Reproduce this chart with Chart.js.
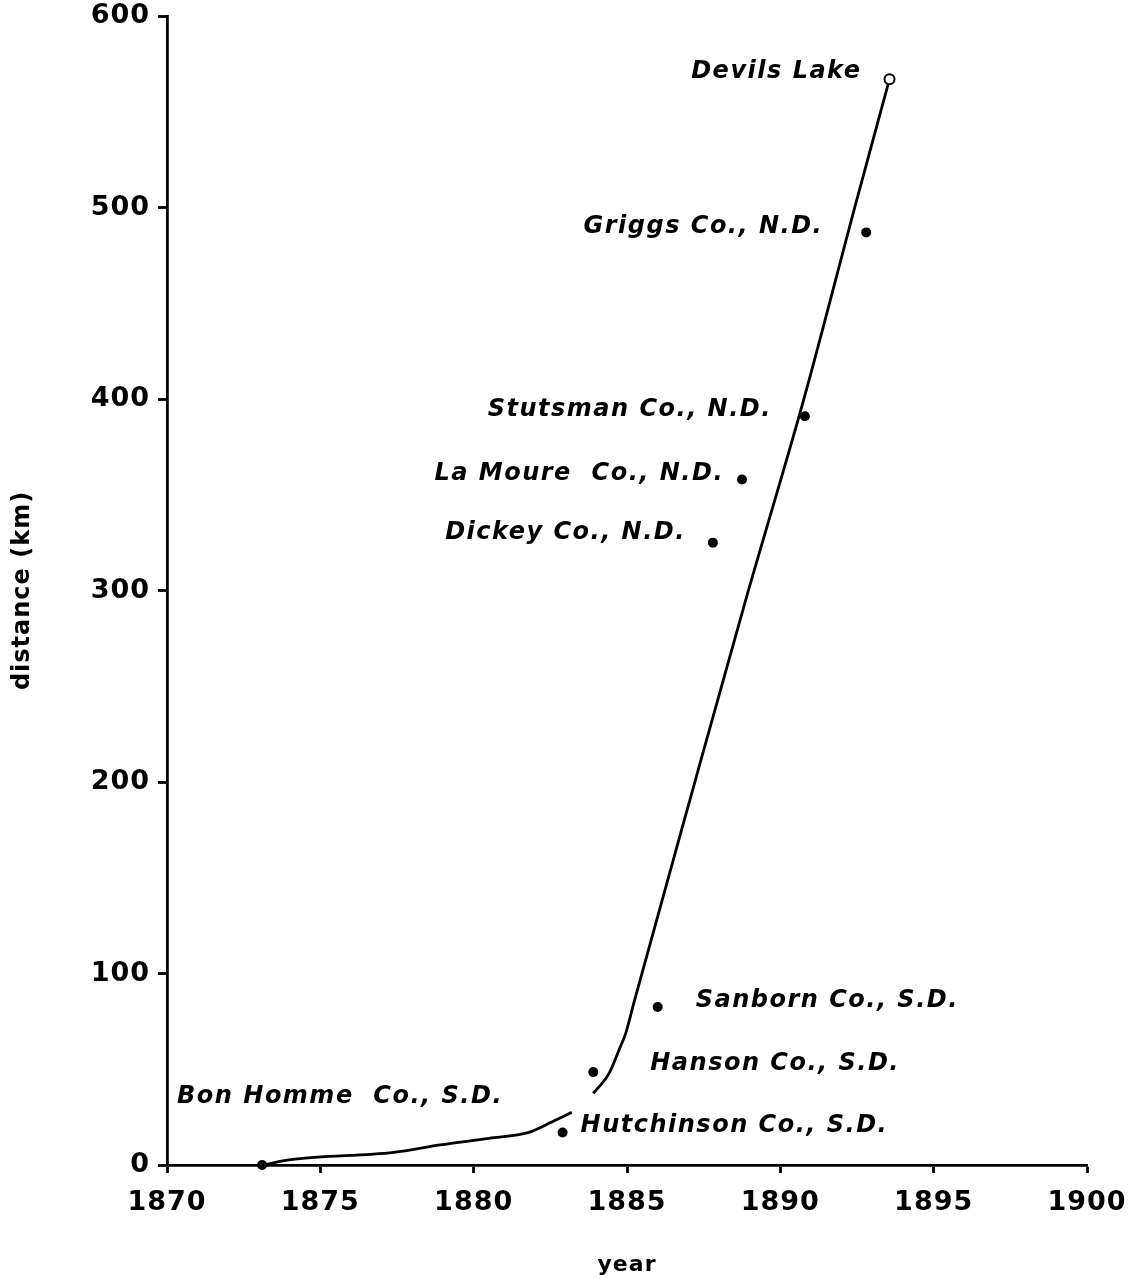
<!DOCTYPE html>
<html>
<head>
<meta charset="utf-8">
<script src="https://cdn.jsdelivr.net/npm/chart.js@4"></script>
<style>
  html, body { margin: 0; padding: 0; background: #fff; }
  #wrap { width: 1133px; height: 1279px; }
</style>
</head>
<body>
<div id="wrap"><canvas id="c" width="1133" height="1279"></canvas></div>
<script>
// Settlement sites: year reached and distance travelled (km)
const siteNames = [
  'Bon Homme  Co., S.D.',
  'Hutchinson Co., S.D.',
  'Hanson Co., S.D.',
  'Sanborn Co., S.D.',
  'Dickey Co., N.D.',
  'La Moure  Co., N.D.',
  'Stutsman Co., N.D.',
  'Griggs Co., N.D.'
];
const siteYears     = [1873.1, 1882.9, 1883.9, 1886.0, 1887.8, 1888.75, 1890.8, 1892.8];
const siteDistances = [0, 17, 48.5, 82.5, 325, 358, 391, 487];

// Final site, drawn as an open circle
const endName = 'Devils Lake';
const endYear = 1893.56;
const endDistance = 567;

// Fitted spread curve, early (slow) phase
const earlyYears     = [1873.1, 1874.1, 1877.4, 1878.9, 1880.5, 1881.8, 1882.35, 1882.8, 1883.2];
const earlyDistances = [0, 2.9, 6.6, 10.5, 13.9, 17.0, 20.9, 24.4, 27.5];

// Fitted spread curve, late (rapid) phase
const lateYears     = [1883.9, 1884.42, 1884.74, 1884.96, 1885.23, 1887.05, 1888.87, 1890.76, 1892.49, 1893.56];
const lateDistances = [37.4, 48.0, 60.1, 68.9, 85.0, 190.6, 295.0, 399.5, 503.9, 567];

// Axis ticks
const yearTicks = [1870, 1875, 1880, 1885, 1890, 1895, 1900];
const distanceTicks = [0, 100, 200, 300, 400, 500, 600];

// Label placement relative to each marker: [dx, dy, align]
const siteLabelOffsets = [
  [-85, -68.5, 'left'],
  [18, -7, 'left'],
  [57, -8, 'left'],
  [38, -6, 'left'],
  [-27, -10, 'right'],
  [-18, -6, 'right'],
  [-33, -6.5, 'right'],
  [-43, -5.5, 'right']
];
const endLabelOffset = [-28, -7.5, 'right'];

const toPoints = (xs, ys) => xs.map((x, i) => ({ x, y: ys[i] }));

const whiteBackground = {
  id: 'whiteBackground',
  beforeDraw(chart) {
    const c = chart.ctx;
    c.save();
    c.fillStyle = '#fff';
    c.fillRect(0, 0, chart.width, chart.height);
    c.restore();
    c.letterSpacing = '1px';
  }
};

const siteLabels = {
  id: 'siteLabels',
  afterDatasetsDraw(chart) {
    const c = chart.ctx;
    const xs = chart.scales.x, ys = chart.scales.y;
    c.save();
    c.letterSpacing = '1.5px';
    c.fillStyle = '#000';
    c.font = 'italic bold 24px "DejaVu Sans"';
    c.textBaseline = 'middle';
    const put = (name, yr, d, off) => {
      c.textAlign = off[2];
      c.fillText(name, xs.getPixelForValue(yr) + off[0], ys.getPixelForValue(d) + off[1]);
    };
    siteNames.forEach((n, i) => put(n, siteYears[i], siteDistances[i], siteLabelOffsets[i]));
    put(endName, endYear, endDistance, endLabelOffset);
    c.restore();
  }
};

new Chart(document.getElementById('c'), {
  type: 'scatter',
  data: {
    datasets: [
      {
        label: endName,
        data: [{ x: endYear, y: endDistance }],
        pointRadius: 5,
        pointBackgroundColor: '#fff',
        pointBorderColor: '#000',
        pointBorderWidth: 2,
        showLine: false,
        clip: false,
        order: 0
      },
      {
        label: 'sites',
        data: toPoints(siteYears, siteDistances),
        pointRadius: 5,
        pointBackgroundColor: '#000',
        pointBorderWidth: 0,
        showLine: false,
        clip: false,
        order: 1
      },
      {
        label: 'early',
        data: toPoints(earlyYears, earlyDistances),
        showLine: true,
        borderColor: '#000',
        borderWidth: 2.8,
        pointRadius: 0,
        cubicInterpolationMode: 'monotone',
        clip: false,
        order: 2
      },
      {
        label: 'late',
        data: toPoints(lateYears, lateDistances),
        showLine: true,
        borderColor: '#000',
        borderWidth: 2.8,
        pointRadius: 0,
        cubicInterpolationMode: 'monotone',
        clip: false,
        order: 2
      }
    ]
  },
  options: {
    responsive: false,
    animation: false,
    devicePixelRatio: 1,
    events: [],
    layout: { padding: { top: 16, right: 46, left: 0, bottom: 0 } },
    plugins: { legend: { display: false }, tooltip: { enabled: false } },
    scales: {
      x: {
        type: 'linear',
        min: yearTicks[0],
        max: yearTicks[yearTicks.length - 1],
        afterBuildTicks(s) { s.ticks = yearTicks.map(v => ({ value: v })); },
        afterFit(s) { s.height = 114; s.paddingLeft = 0; s.paddingRight = 0; },
        border: { display: true, color: '#000', width: 2.8 },
        grid: { display: true, drawOnChartArea: false, drawTicks: true, tickLength: 8, tickWidth: 2.8, tickColor: '#000' },
        ticks: {
          color: '#000',
          padding: 14,
          font: { family: '"DejaVu Sans"', size: 27, weight: 'bold' },
          callback: v => String(v)
        },
        title: {
          display: true,
          text: 'year',
          color: '#000',
          font: { family: '"DejaVu Sans"', size: 22, weight: 'bold' },
          padding: { top: 0, bottom: 1 }
        }
      },
      y: {
        type: 'linear',
        min: distanceTicks[0],
        max: distanceTicks[distanceTicks.length - 1],
        afterBuildTicks(s) { s.ticks = distanceTicks.map(v => ({ value: v })); },
        afterFit(s) { s.width = 167; s.paddingTop = 0; s.paddingBottom = 0; },
        border: { display: true, color: '#000', width: 2.8 },
        grid: { display: true, drawOnChartArea: false, drawTicks: true, tickLength: 9, tickWidth: 2.8, tickColor: '#000' },
        ticks: {
          color: '#000',
          padding: 8,
          font: { family: '"DejaVu Sans"', size: 27, weight: 'bold' },
          callback: v => String(v)
        },
        title: {
          display: true,
          text: 'distance (km)',
          color: '#000',
          font: { family: '"DejaVu Sans"', size: 24, weight: 'bold' },
          padding: { top: 8, bottom: 0 }
        }
      }
    }
  },
  plugins: [whiteBackground, siteLabels]
});
</script>
</body>
</html>
